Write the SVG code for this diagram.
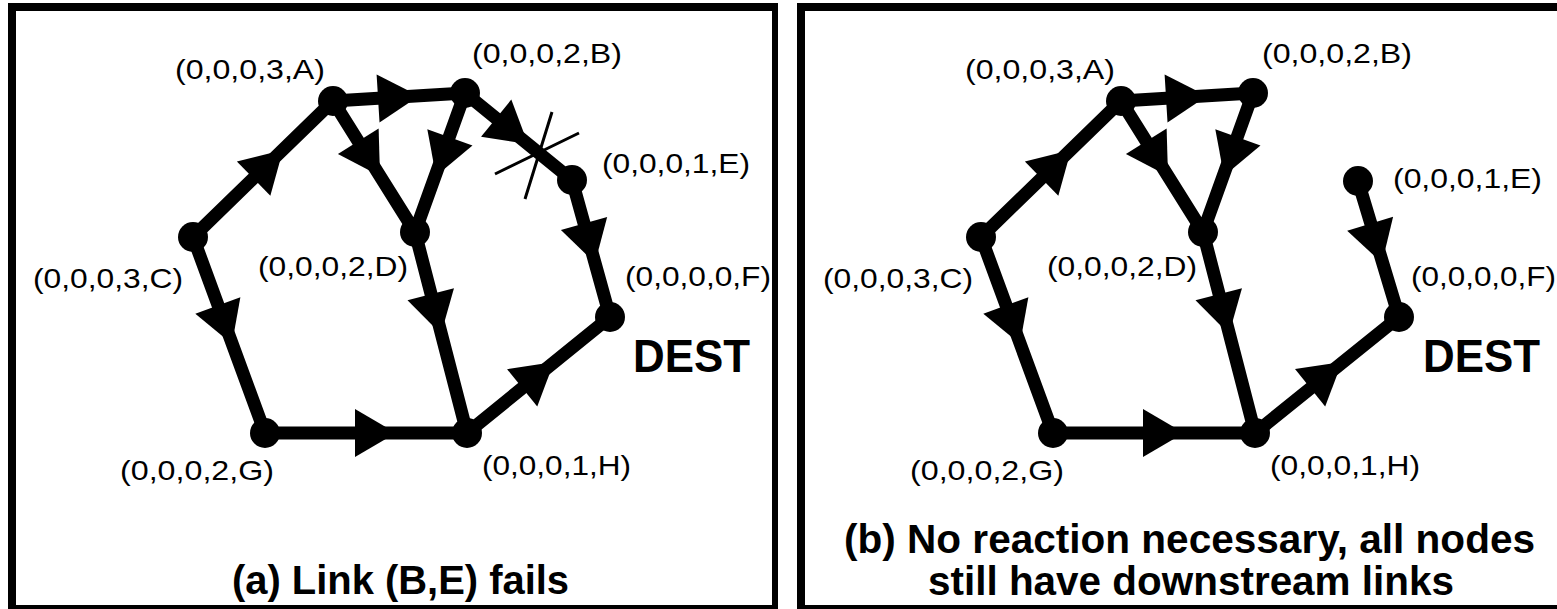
<svg xmlns="http://www.w3.org/2000/svg" xmlns:xlink="http://www.w3.org/1999/xlink" width="1557" height="609" viewBox="0 0 1557 609">
<style>
.lbl{font-family:"Liberation Sans",Arial,sans-serif;font-size:28px;fill:#000}
.dest{font-family:"Liberation Sans",Arial,sans-serif;font-size:47px;font-weight:bold;fill:#000}
.cap{font-family:"Liberation Sans",Arial,sans-serif;font-size:40px;font-weight:bold;fill:#000}
.edge{fill:none;stroke:#000;stroke-width:13;stroke-linecap:round;stroke-linejoin:round}
.nd{fill:#000}
.frame{fill:#000}
.cut{stroke:#000;stroke-width:3;fill:none}
</style>
<defs>
<path id="ah" d="M-41,-24 L0,0 L-41,24 z" fill="#000"/>
</defs>
<rect width="1557" height="609" fill="#fff"/>
<g id="frame-a">
<rect class="frame" x="8" y="3" width="770" height="8"/>
<rect class="frame" x="8" y="3" width="8" height="606"/>
<rect class="frame" x="772" y="3" width="6" height="606"/>
<rect class="frame" x="8" y="605" width="770" height="4"/>
</g>
<g id="frame-b">
<rect class="frame" x="797" y="3" width="760" height="8"/>
<rect class="frame" x="797" y="3" width="8" height="606"/>
<rect class="frame" x="797" y="605" width="760" height="4"/>
</g>
<g id="a-connectors">
<path class="edge" d="M333,101 L465,93"/><use href="#ah" xlink:href="#ah" transform="translate(419,96) rotate(-3.5)"/>
<path class="edge" d="M193,237 L333,101"/><use href="#ah" xlink:href="#ah" transform="translate(283,150) rotate(-44.2)"/>
<path class="edge" d="M333,101 L415,232"/><use href="#ah" xlink:href="#ah" transform="translate(380,176) rotate(58)"/>
<path class="edge" d="M465,93 L415,232"/><use href="#ah" xlink:href="#ah" transform="translate(436,176) rotate(109.8)"/>
<path class="edge" d="M465,93 L572,180"/><use href="#ah" xlink:href="#ah" transform="translate(528,144) rotate(39.1)"/>
<path class="edge" d="M572,180 L610,317"/><use href="#ah" xlink:href="#ah" transform="translate(595,263) rotate(74.5)"/>
<path class="edge" d="M415,232 L467,433"/><use href="#ah" xlink:href="#ah" transform="translate(441,334) rotate(75.5)"/>
<path class="edge" d="M193,237 L265,433"/><use href="#ah" xlink:href="#ah" transform="translate(232,344) rotate(69.8)"/>
<path class="edge" d="M265,433 L467,433"/><use href="#ah" xlink:href="#ah" transform="translate(396,433)"/>
<path class="edge" d="M467,433 L610,317"/><use href="#ah" xlink:href="#ah" transform="translate(554,362) rotate(-39)"/>
<path class="cut" d="M552,112 L525,199 M579,133 L495,174"/>
</g>
<g id="a-A"><circle class="nd" cx="333" cy="101" r="15"/><text class="lbl" x="175" y="79" textLength="150" lengthAdjust="spacingAndGlyphs">(0,0,0,3,A)</text></g>
<g id="a-B"><circle class="nd" cx="465" cy="93" r="15"/><text class="lbl" x="472" y="63" textLength="150" lengthAdjust="spacingAndGlyphs">(0,0,0,2,B)</text></g>
<g id="a-E"><circle class="nd" cx="572" cy="180" r="15"/><text class="lbl" x="602" y="173" textLength="148" lengthAdjust="spacingAndGlyphs">(0,0,0,1,E)</text></g>
<g id="a-F"><circle class="nd" cx="610" cy="317" r="15"/><text class="lbl" x="625" y="286" textLength="146" lengthAdjust="spacingAndGlyphs">(0,0,0,0,F)</text><text class="dest" x="633" y="372" textLength="117" lengthAdjust="spacingAndGlyphs">DEST</text></g>
<g id="a-C"><circle class="nd" cx="193" cy="237" r="15"/><text class="lbl" x="33" y="288" textLength="150" lengthAdjust="spacingAndGlyphs">(0,0,0,3,C)</text></g>
<g id="a-D"><circle class="nd" cx="415" cy="232" r="15"/><text class="lbl" x="258" y="276" textLength="150" lengthAdjust="spacingAndGlyphs">(0,0,0,2,D)</text></g>
<g id="a-G"><circle class="nd" cx="265" cy="433" r="15"/><text class="lbl" x="120" y="480" textLength="154" lengthAdjust="spacingAndGlyphs">(0,0,0,2,G)</text></g>
<g id="a-H"><circle class="nd" cx="467" cy="433" r="15"/><text class="lbl" x="482" y="475" textLength="149" lengthAdjust="spacingAndGlyphs">(0,0,0,1,H)</text></g>
<text class="cap" x="232" y="594" textLength="337" lengthAdjust="spacingAndGlyphs">(a) Link (B,E) fails</text>
<g id="b-connectors">
<path class="edge" d="M1121,101 L1253,93"/><use href="#ah" xlink:href="#ah" transform="translate(1207,96) rotate(-3.5)"/>
<path class="edge" d="M981,237 L1121,101"/><use href="#ah" xlink:href="#ah" transform="translate(1071,150) rotate(-44.2)"/>
<path class="edge" d="M1121,101 L1203,232"/><use href="#ah" xlink:href="#ah" transform="translate(1168,176) rotate(58)"/>
<path class="edge" d="M1253,93 L1203,232"/><use href="#ah" xlink:href="#ah" transform="translate(1224,176) rotate(109.8)"/>
<path class="edge" d="M1358,181 L1399,317"/><use href="#ah" xlink:href="#ah" transform="translate(1382,263) rotate(73.2)"/>
<path class="edge" d="M1203,232 L1255,433"/><use href="#ah" xlink:href="#ah" transform="translate(1229,334) rotate(75.5)"/>
<path class="edge" d="M981,237 L1053,433"/><use href="#ah" xlink:href="#ah" transform="translate(1020,344) rotate(69.8)"/>
<path class="edge" d="M1053,433 L1255,433"/><use href="#ah" xlink:href="#ah" transform="translate(1184,433)"/>
<path class="edge" d="M1255,433 L1399,317"/><use href="#ah" xlink:href="#ah" transform="translate(1342,362) rotate(-38.9)"/>
</g>
<g id="b-A"><circle class="nd" cx="1121" cy="101" r="15"/><text class="lbl" x="965" y="79" textLength="150" lengthAdjust="spacingAndGlyphs">(0,0,0,3,A)</text></g>
<g id="b-B"><circle class="nd" cx="1253" cy="93" r="15"/><text class="lbl" x="1262" y="63" textLength="150" lengthAdjust="spacingAndGlyphs">(0,0,0,2,B)</text></g>
<g id="b-E"><circle class="nd" cx="1358" cy="181" r="15"/><text class="lbl" x="1393" y="188" textLength="149" lengthAdjust="spacingAndGlyphs">(0,0,0,1,E)</text></g>
<g id="b-F"><circle class="nd" cx="1399" cy="317" r="15"/><text class="lbl" x="1411" y="286" textLength="145" lengthAdjust="spacingAndGlyphs">(0,0,0,0,F)</text><text class="dest" x="1423" y="372" textLength="117" lengthAdjust="spacingAndGlyphs">DEST</text></g>
<g id="b-C"><circle class="nd" cx="981" cy="237" r="15"/><text class="lbl" x="823" y="288" textLength="150" lengthAdjust="spacingAndGlyphs">(0,0,0,3,C)</text></g>
<g id="b-D"><circle class="nd" cx="1203" cy="232" r="15"/><text class="lbl" x="1047" y="276" textLength="150" lengthAdjust="spacingAndGlyphs">(0,0,0,2,D)</text></g>
<g id="b-G"><circle class="nd" cx="1053" cy="433" r="15"/><text class="lbl" x="910" y="480" textLength="154" lengthAdjust="spacingAndGlyphs">(0,0,0,2,G)</text></g>
<g id="b-H"><circle class="nd" cx="1255" cy="433" r="15"/><text class="lbl" x="1270" y="475" textLength="150" lengthAdjust="spacingAndGlyphs">(0,0,0,1,H)</text></g>
<text class="cap" x="844" y="553" textLength="691" lengthAdjust="spacingAndGlyphs">(b) No reaction necessary, all nodes</text>
<text class="cap" x="928" y="595" textLength="526" lengthAdjust="spacingAndGlyphs">still have downstream links</text>
</svg>
